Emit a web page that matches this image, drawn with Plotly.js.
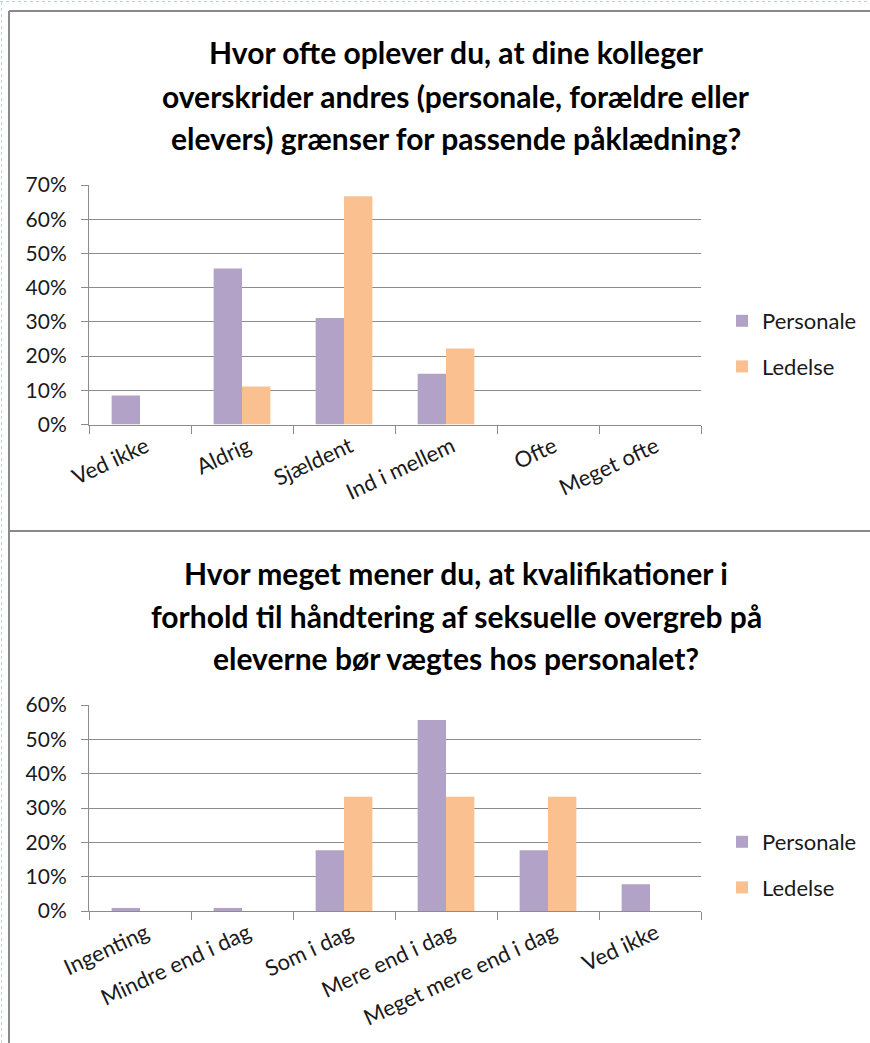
<!DOCTYPE html>
<html>
<head>
<meta charset="utf-8">
<script src="https://cdn.plot.ly/plotly-3.0.1.min.js"></script>
<style>html,body{margin:0;padding:0;background:#fff;}#chart{width:870px;height:1043px;}</style>
</head>
<body>
<div id="chart"></div>
<script>
// Chart 1
const cats1 = ["Ved ikke", "Aldrig", "Sjældent", "Ind i mellem", "Ofte", "Meget ofte"];
const personale1 = [0.085, 0.456, 0.311, 0.148, 0, 0];
const ledelse1 = [0, 0.111, 0.667, 0.222, 0, 0];
const title1Lines = ["Hvor ofte oplever du, at dine kolleger", "overskrider andres (personale, forældre eller", "elevers) grænser for passende påklædning?"];

// Chart 2
const cats2 = ["Ingenting", "Mindre end i dag", "Som i dag", "Mere end i dag", "Meget mere end i dag", "Ved ikke"];
const personale2 = [0.009, 0.009, 0.177, 0.556, 0.177, 0.078];
const ledelse2 = [0, 0, 0.333, 0.333, 0.333, 0];
const title2Lines = ["Hvor meget mener du, at kvalifikationer i", "forhold til håndtering af seksuelle overgreb på", "eleverne bør vægtes hos personalet?"];

const seriesNames = ["Personale", "Ledelse"];
const colors = ["#B3A2C7", "#FAC090"];

const W = 870, H = 1043;
const px = x => x / W;
const py = y => 1 - y / H;
const FONT = "Lato, 'Liberation Sans', sans-serif";

const traces = [
  {type: "bar", x: cats1, y: personale1, name: seriesNames[0], marker: {color: colors[0]}, xaxis: "x", yaxis: "y", legend: "legend", legendgroup: "a1"},
  {type: "bar", x: cats1, y: ledelse1, name: seriesNames[1], marker: {color: colors[1]}, xaxis: "x", yaxis: "y", legend: "legend", legendgroup: "b1"},
  {type: "bar", x: cats2, y: personale2, name: seriesNames[0], marker: {color: colors[0]}, xaxis: "x2", yaxis: "y2", legend: "legend2", legendgroup: "a2"},
  {type: "bar", x: cats2, y: ledelse2, name: seriesNames[1], marker: {color: colors[1]}, xaxis: "x2", yaxis: "y2", legend: "legend2", legendgroup: "b2"}
];

const xCommon = {
  type: "category", showline: true, linecolor: "#8c8c8c", linewidth: 1,
  ticks: "outside", tickson: "boundaries", ticklen: 8, tickcolor: "#8c8c8c",
  showgrid: false, tickangle: -25, tickfont: {family: FONT, size: 22, color: "#1a1a1a"},
  ticklabelshift: 6,
  fixedrange: true
};
const yCommon = {
  showline: true, linecolor: "#8c8c8c", linewidth: 1,
  ticks: "outside", ticklen: 7, tickcolor: "#8c8c8c",
  showgrid: true, gridcolor: "#8c8c8c", gridwidth: 1, zeroline: false,
  tickformat: ".0%", dtick: 0.1, tickfont: {family: FONT, size: 21, color: "#1a1a1a"},
  ticklabelstandoff: 10,
  fixedrange: true
};

const yTop1 = 185, yZero1 = 424.5;
const yTop2 = 705, yZero2 = 911;

const annotations = [];
const t1y = [52, 96, 138];
const t2y = [573, 616, 658];
const titleFont = {family: FONT, size: 30, color: "#000", weight: "bold"};
title1Lines.forEach((t, i) => annotations.push({text: t, x: px(456), y: py(t1y[i]), xref: "paper", yref: "paper", showarrow: false, xanchor: "center", yanchor: "middle", font: titleFont}));
title2Lines.forEach((t, i) => annotations.push({text: t, x: px(456), y: py(t2y[i]), xref: "paper", yref: "paper", showarrow: false, xanchor: "center", yanchor: "middle", font: titleFont}));

const legendCommon = {x: px(722), xanchor: "left", yanchor: "middle", font: {family: FONT, size: 22, color: "#1a1a1a"}, tracegroupgap: 14, bgcolor: "rgba(0,0,0,0)", itemwidth: 30};

const layout = {
  width: W, height: H,
  margin: {l: 0, r: 0, t: 0, b: 0},
  paper_bgcolor: "#fff", plot_bgcolor: "#fff",
  barmode: "group", bargap: 0.444, bargroupgap: 0,
  showlegend: true,
  xaxis: Object.assign({}, xCommon, {domain: [px(89), px(701)], anchor: "y"}),
  yaxis: Object.assign({}, yCommon, {domain: [py(yZero1), py(yTop1)], range: [0, 0.7], anchor: "x"}),
  xaxis2: Object.assign({}, xCommon, {domain: [px(89), px(701)], anchor: "y2"}),
  yaxis2: Object.assign({}, yCommon, {domain: [py(yZero2), py(yTop2)], range: [0, 0.6], anchor: "x2"}),
  legend: Object.assign({}, legendCommon, {y: py(344)}),
  legend2: Object.assign({}, legendCommon, {y: py(865)}),
  annotations: annotations,
  shapes: [
    {type: "line", xref: "paper", yref: "paper", x0: 0, x1: 1, y0: py(1.5), y1: py(1.5), line: {color: "#b8d0ec", width: 1, dash: "dot"}},
    {type: "line", xref: "paper", yref: "paper", x0: px(1.5), x1: px(1.5), y0: 0, y1: 1, line: {color: "#b8d0ec", width: 1, dash: "dot"}},
    {type: "line", xref: "paper", yref: "paper", x0: px(9), x1: px(9), y0: 0, y1: py(11), line: {color: "#8a8a8a", width: 2}},
    {type: "line", xref: "paper", yref: "paper", x0: px(9), x1: 1, y0: py(11), y1: py(11), line: {color: "#8a8a8a", width: 2}},
    {type: "line", xref: "paper", yref: "paper", x0: px(9), x1: 1, y0: py(531), y1: py(531), line: {color: "#8a8a8a", width: 2}}
  ]
};

Plotly.newPlot("chart", traces, layout, {displayModeBar: false, staticPlot: true});
</script>
</body>
</html>
